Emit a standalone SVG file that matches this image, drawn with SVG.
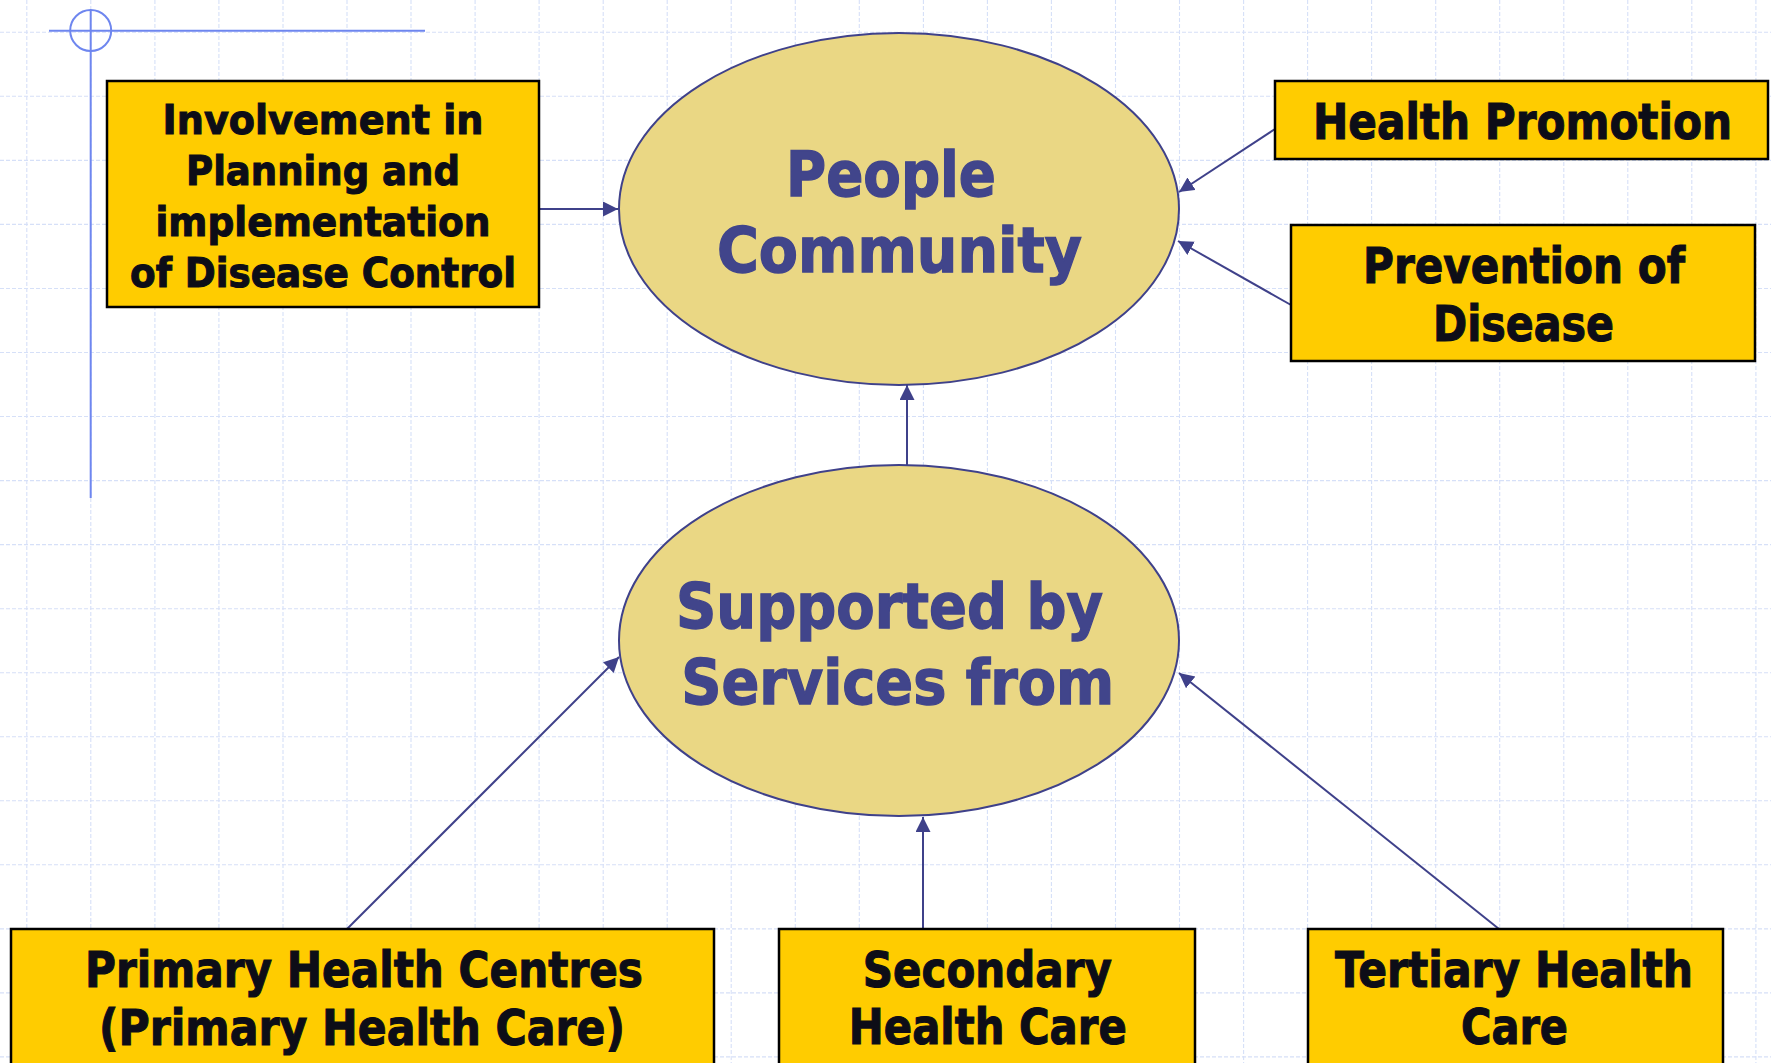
<svg xmlns="http://www.w3.org/2000/svg" width="1771" height="1063" viewBox="0 0 1771 1063">
<style>
.grid{fill:none;stroke:#d6e0f8;stroke-width:1.1;stroke-dasharray:4 2}
.cross{fill:none;stroke:#6e86ef;stroke-width:2}
.box{fill:#ffcc00;stroke:#000;stroke-width:2.5}
.ell{fill:#ead784;stroke:#3f418a;stroke-width:2}
.bt{font-family:"DejaVu Sans","Liberation Sans",sans-serif;font-weight:bold;fill:#0d0d17;stroke:#0d0d17;stroke-width:1.1;text-anchor:middle}
.et{font-family:"DejaVu Sans","Liberation Sans",sans-serif;font-weight:bold;fill:#41458b;stroke:#41458b;stroke-width:1.4;text-anchor:middle;font-size:63px}
.conn{fill:none;stroke:#3f418a;stroke-width:2;marker-end:url(#ah)}
</style>
<defs>
<marker id="ah" markerUnits="userSpaceOnUse" markerWidth="16" markerHeight="16" refX="15" refY="7.5" orient="auto">
<path d="M0,0 L15,7.5 L0,15 z" fill="#3f418a"/>
</marker>
</defs>
<rect width="1771" height="1063" fill="#ffffff"/>
<g id="grid">
<path class="grid" d="M26.8,0V1063M90.8,0V1063M154.9,0V1063M218.9,0V1063M283,0V1063M347,0V1063M411,0V1063M475.1,0V1063M539.1,0V1063M603.2,0V1063M667.2,0V1063M731.2,0V1063M795.3,0V1063M859.3,0V1063M923.4,0V1063M987.4,0V1063M1051.4,0V1063M1115.5,0V1063M1179.5,0V1063M1243.6,0V1063M1307.6,0V1063M1371.6,0V1063M1435.7,0V1063M1499.7,0V1063M1563.8,0V1063M1627.8,0V1063M1691.8,0V1063M1755.9,0V1063"/>
<path class="grid" d="M0,32.3H1771M0,96.3H1771M0,160.4H1771M0,224.4H1771M0,288.5H1771M0,352.5H1771M0,416.5H1771M0,480.6H1771M0,544.6H1771M0,608.7H1771M0,672.7H1771M0,736.7H1771M0,800.8H1771M0,864.8H1771M0,928.9H1771M0,992.9H1771M0,1056.9H1771"/>
</g>
<g id="crosshair">
<circle class="cross" cx="90.7" cy="30.5" r="20.5"/>
<line class="cross" x1="49" y1="30.7" x2="425" y2="30.7"/>
<line class="cross" x1="90.7" y1="10" x2="90.7" y2="498"/>
</g>
<g id="connectors">
<line class="conn" x1="539" y1="209" x2="618" y2="209"/>
<line class="conn" x1="1275" y1="129" x2="1179" y2="192"/>
<line class="conn" x1="1291" y1="305" x2="1178" y2="241"/>
<line class="conn" x1="907" y1="465" x2="907" y2="385"/>
<line class="conn" x1="347" y1="929" x2="619" y2="657"/>
<line class="conn" x1="923" y1="929" x2="923" y2="817"/>
<line class="conn" x1="1499" y1="929" x2="1179" y2="673"/>
</g>
<g id="people-community">
<ellipse class="ell" cx="899" cy="209" rx="280" ry="176"/>
<text class="et" x="891" y="196" textLength="210" lengthAdjust="spacingAndGlyphs">People</text>
<text class="et" x="899.5" y="272" textLength="365" lengthAdjust="spacingAndGlyphs">Community</text>
</g>
<g id="supported-by">
<ellipse class="ell" cx="899" cy="640.5" rx="280" ry="175.5"/>
<text class="et" x="889.5" y="628" textLength="427" lengthAdjust="spacingAndGlyphs">Supported by</text>
<text class="et" x="897.7" y="704" textLength="433" lengthAdjust="spacingAndGlyphs">Services from</text>
</g>
<g id="involvement">
<rect class="box" x="107" y="81" width="432" height="226"/>
<text class="bt" font-size="41" x="323" y="133.5" textLength="321" lengthAdjust="spacingAndGlyphs">Involvement in</text>
<text class="bt" font-size="41" x="323" y="184.8" textLength="274" lengthAdjust="spacingAndGlyphs">Planning and</text>
<text class="bt" font-size="41" x="323" y="236.1" textLength="335" lengthAdjust="spacingAndGlyphs">implementation</text>
<text class="bt" font-size="41" x="323" y="287.4" textLength="386" lengthAdjust="spacingAndGlyphs">of Disease Control</text>
</g>
<g id="health-promotion">
<rect class="box" x="1275" y="81" width="493" height="78"/>
<text class="bt" font-size="49" x="1522.5" y="139.3" textLength="419" lengthAdjust="spacingAndGlyphs">Health Promotion</text>
</g>
<g id="prevention">
<rect class="box" x="1291" y="225" width="464" height="136"/>
<text class="bt" font-size="49" x="1524" y="282.7" textLength="322" lengthAdjust="spacingAndGlyphs">Prevention of</text>
<text class="bt" font-size="49" x="1523.5" y="340.7" textLength="181" lengthAdjust="spacingAndGlyphs">Disease</text>
</g>
<g id="primary">
<rect class="box" x="11" y="929" width="703" height="150"/>
<text class="bt" font-size="49" x="364" y="987.3" textLength="558" lengthAdjust="spacingAndGlyphs">Primary Health Centres</text>
<text class="bt" font-size="49" x="362" y="1045" textLength="526" lengthAdjust="spacingAndGlyphs">(Primary Health Care)</text>
</g>
<g id="secondary">
<rect class="box" x="779" y="929" width="416" height="150"/>
<text class="bt" font-size="49" x="987.3" y="987" textLength="249" lengthAdjust="spacingAndGlyphs">Secondary</text>
<text class="bt" font-size="49" x="987.8" y="1044" textLength="278" lengthAdjust="spacingAndGlyphs">Health Care</text>
</g>
<g id="tertiary">
<rect class="box" x="1308" y="929" width="415" height="150"/>
<text class="bt" font-size="49" x="1514" y="987" textLength="358" lengthAdjust="spacingAndGlyphs">Tertiary Health</text>
<text class="bt" font-size="49" x="1514.5" y="1044" textLength="107" lengthAdjust="spacingAndGlyphs">Care</text>
</g>
</svg>
